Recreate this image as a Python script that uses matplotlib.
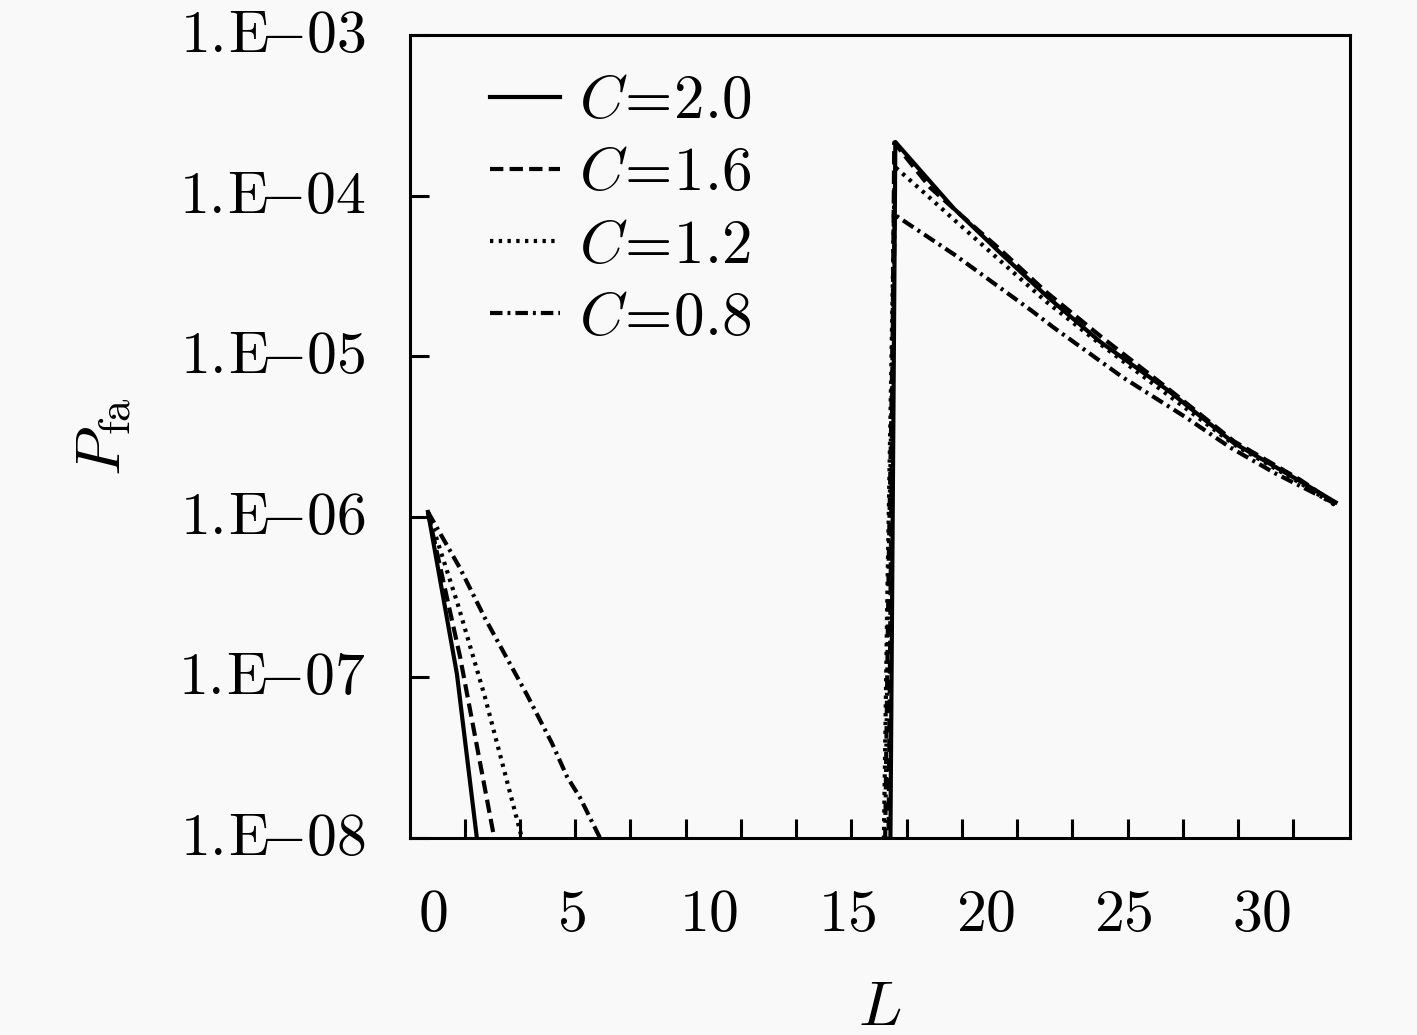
import numpy as np
import matplotlib
matplotlib.use("Agg")
from matplotlib import pyplot as plt

plt.rcParams['mathtext.fontset'] = 'cm'
plt.rcParams['font.family'] = 'serif'
plt.rcParams['font.serif'] = ['DejaVu Serif']

# values (L, log10 P_fa)
labels = [r'$C\!=\!2.0$', r'$C\!=\!1.6$', r'$C\!=\!1.2$', r'$C\!=\!0.8$']

L_c20 = [-0.18, 0.87, 1.59, 1.8,
         16.55, 16.74, 18.84, 20.54, 22.25, 24.17, 26.59, 28.99, 31.41, 32.68]
P_c20 = [-5.97, -6.98, -8.0, -8.3,
         -8.3, -3.666, -4.077, -4.357, -4.631, -4.912, -5.21, -5.54, -5.78, -5.91]

L_c16 = [-0.18, 0.98, 2.22, 2.4,
         16.48, 16.70, 18.0, 19.5, 20.5, 22.2, 24.2, 26.6, 29.0, 31.4, 32.68]
P_c16 = [-5.97, -6.87, -8.0, -8.15,
         -8.3, -3.67, -3.95, -4.18, -4.33, -4.60, -4.88, -5.20, -5.53, -5.77, -5.92]

L_c12 = [-0.18, 0.91, 1.88, 3.22, 3.4,
         16.3, 16.45, 16.72, 17.9, 18.8, 20.5, 22.2, 24.2, 26.6, 29.0, 31.4, 32.68]
P_c12 = [-5.97, -6.55, -7.12, -8.0, -8.1,
         -8.3, -6.5, -3.82, -4.0, -4.14, -4.40, -4.66, -4.93, -5.24, -5.55, -5.79, -5.93]

L_c08 = [-0.18, 0.98, 1.88, 3.41, 4.31, 4.86, 5.33, 6.05, 6.3,
         16.35, 16.5, 16.72, 18.9, 21.7, 22.46, 24.96, 27.25, 28.88, 30.5, 32.68]
P_c08 = [-5.97, -6.32, -6.63, -7.11, -7.41, -7.62, -7.75, -8.0, -8.1,
         -8.3, -6.3, -4.12, -4.37, -4.72, -4.82, -5.13, -5.38, -5.57, -5.73, -5.92]

x_tick_labels = ['0', '5', '10', '15', '20', '25', '30']
y_tick_labels = ['1.\\!E\\!{-}08', '1.\\!E\\!{-}07', '1.\\!E\\!{-}06',
                 '1.\\!E\\!{-}05', '1.\\!E\\!{-}04', '1.\\!E\\!{-}03']

bg = '#f9f9f9'
fig = plt.figure(figsize=(14.17, 10.35), dpi=100, facecolor=bg)
ax = fig.add_axes([410 / 1417, 1 - 838 / 1035, 940 / 1417, 803 / 1035])
ax.set_facecolor(bg)

styles = [
    dict(linestyle='-'),
    dict(linestyle=(0, (3.2, 1.5))),
    dict(linestyle=(0, (0.8, 1.3))),
    dict(linestyle=(0, (3.0, 1.2, 0.7, 1.2))),
]
series = [(L_c20, P_c20), (L_c16, P_c16), (L_c12, P_c12), (L_c08, P_c08)]
for (xs, ps), st, lab in zip(series, styles, labels):
    ax.plot(xs, 10 ** np.array(ps), color='black', lw=3.0, label=lab, **st)

ax.set_yscale('log')
ax.set_xlim(-0.83, 33.2)
ax.set_ylim(1e-8, 1e-3)

ax.set_yticks([1e-8, 1e-7, 1e-6, 1e-5, 1e-4, 1e-3])
ax.set_yticklabels([r'$\mathrm{%s}$' % t for t in y_tick_labels])
ax.yaxis.set_minor_locator(matplotlib.ticker.NullLocator())
ax.set_xticks([0, 5, 10, 15, 20, 25, 30])
ax.set_xticklabels([r'$\mathrm{%s}$' % t for t in x_tick_labels])
ax.set_xticks(np.arange(1.15, 32, 2.0), minor=True)

ax.tick_params(axis='x', which='major', length=0, pad=34, labelsize=43)
ax.tick_params(axis='x', which='minor', direction='in', length=14, width=2.2)
ax.tick_params(axis='y', which='major', direction='in', length=14, width=2.2,
               pad=32, labelsize=43)
ax.tick_params(top=False, right=False)
for t in ax.get_yticklabels():
    t.set_verticalalignment('center')
for sp in ax.spines.values():
    sp.set_linewidth(2.2)

ax.set_xlabel(r'$L$', fontsize=46, labelpad=24)
ax.set_ylabel(r'$P_{\mathrm{fa}}$', fontsize=46, labelpad=32)

ax.legend(loc='upper left', bbox_to_anchor=(0.085, 0.955), frameon=False,
          fontsize=44, handlelength=1.15, handletextpad=0.3, labelspacing=0.2,
          borderpad=0, borderaxespad=0)

fig.savefig('out.png', dpi=100, facecolor=bg)
